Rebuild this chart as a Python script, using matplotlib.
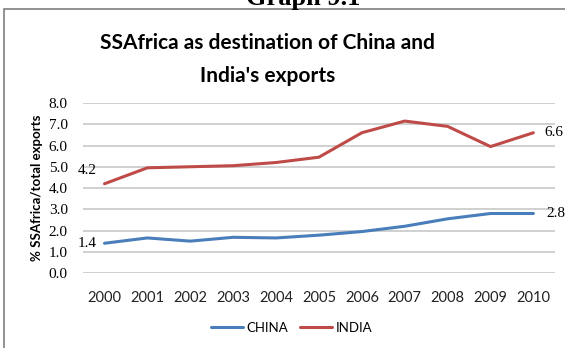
import matplotlib.pyplot as plt
from matplotlib.patches import Rectangle
import numpy as np

years = ['2000', '2001', '2002', '2003', '2004', '2005',
         '2006', '2007', '2008', '2009', '2010']
china = [1.4, 1.65, 1.5, 1.68, 1.65, 1.78, 1.95, 2.2, 2.55, 2.8, 2.8]
india = [4.2, 4.95, 5.0, 5.05, 5.2, 5.45, 6.6, 7.15, 6.9, 5.95, 6.6]
yticks = [0.0, 1.0, 2.0, 3.0, 4.0, 5.0, 6.0, 7.0, 8.0]

blue = '#4a7ebb'
red = '#be4b48'
sans = 'Lato'
serif = 'Liberation Serif'

fig = plt.figure(figsize=(5.65, 3.48), dpi=100)
ax = fig.add_axes([0.147, 0.2155, 0.835, 0.4885])

x = np.arange(len(years))
ax.plot(x, china, color=blue, lw=2.2, label='CHINA', solid_capstyle='round')
ax.plot(x, india, color=red, lw=2.2, label='INDIA', solid_capstyle='round')

ax.set_xlim(-0.5, len(years) - 0.5)
ax.set_ylim(0, 8)
ax.set_yticks(yticks)
ax.set_yticklabels(['%.1f' % v for v in yticks], family=serif, fontsize=11)
ax.set_xticks(x)
ax.set_xticklabels(years, fontsize=10.5, family=sans, color='#222222')
ax.tick_params(length=0)
ax.tick_params(axis='x', pad=13)
ax.tick_params(axis='y', pad=11)
ax.grid(axis='y', color='#c4c4c4', lw=1.1)
ax.set_axisbelow(True)
for s in ax.spines.values():
    s.set_visible(False)

ax.set_ylabel('% SSAfrica/total exports', fontsize=9.5, fontweight='bold', family=sans)
ax.yaxis.set_label_coords(-0.085, 0.5)

# first and last values
lbl = dict(family=serif, fontsize=11, textcoords='offset points', annotation_clip=False)
ax.annotate('%.1f' % india[0], (x[0], india[0]), xytext=(-19, 5), va='bottom', ha='left', **lbl)
ax.annotate('%.1f' % china[0], (x[0], china[0]), xytext=(-19, 0), va='center', ha='left', **lbl)
ax.annotate('%.1f' % india[-1], (x[-1], india[-1]), xytext=(8, 0), va='center', **lbl)
ax.annotate('%.1f' % china[-1], (x[-1], china[-1]), xytext=(9, 0), va='center', **lbl)

fig.legend(loc='center', bbox_to_anchor=(0.516, 1 - 328 / 348), ncol=2, frameon=False,
           prop={'family': sans, 'size': 9.5}, handlelength=2.45,
           handletextpad=0.25, columnspacing=0.9)

fig.text(0.474, 1 - 43 / 348, 'SSAfrica as destination of China and',
         ha='center', va='center', fontsize=15, fontweight='bold', family=sans)
fig.text(0.474, 1 - 76 / 348, "India's exports",
         ha='center', va='center', fontsize=15, fontweight='bold', family=sans)

# outer frame and heading above it
fig.patches.append(Rectangle((4 / 565, -0.1), 1.1, 1.1 - 9 / 348, transform=fig.transFigure,
                             fill=False, edgecolor='#7f7f7f', lw=1.2))
fig.text(0.537, 1 - 5 / 348, 'Graph 9.1', ha='center', va='baseline', fontsize=19,
         fontweight='bold', family=serif)

fig.savefig('out.png', dpi=100)
